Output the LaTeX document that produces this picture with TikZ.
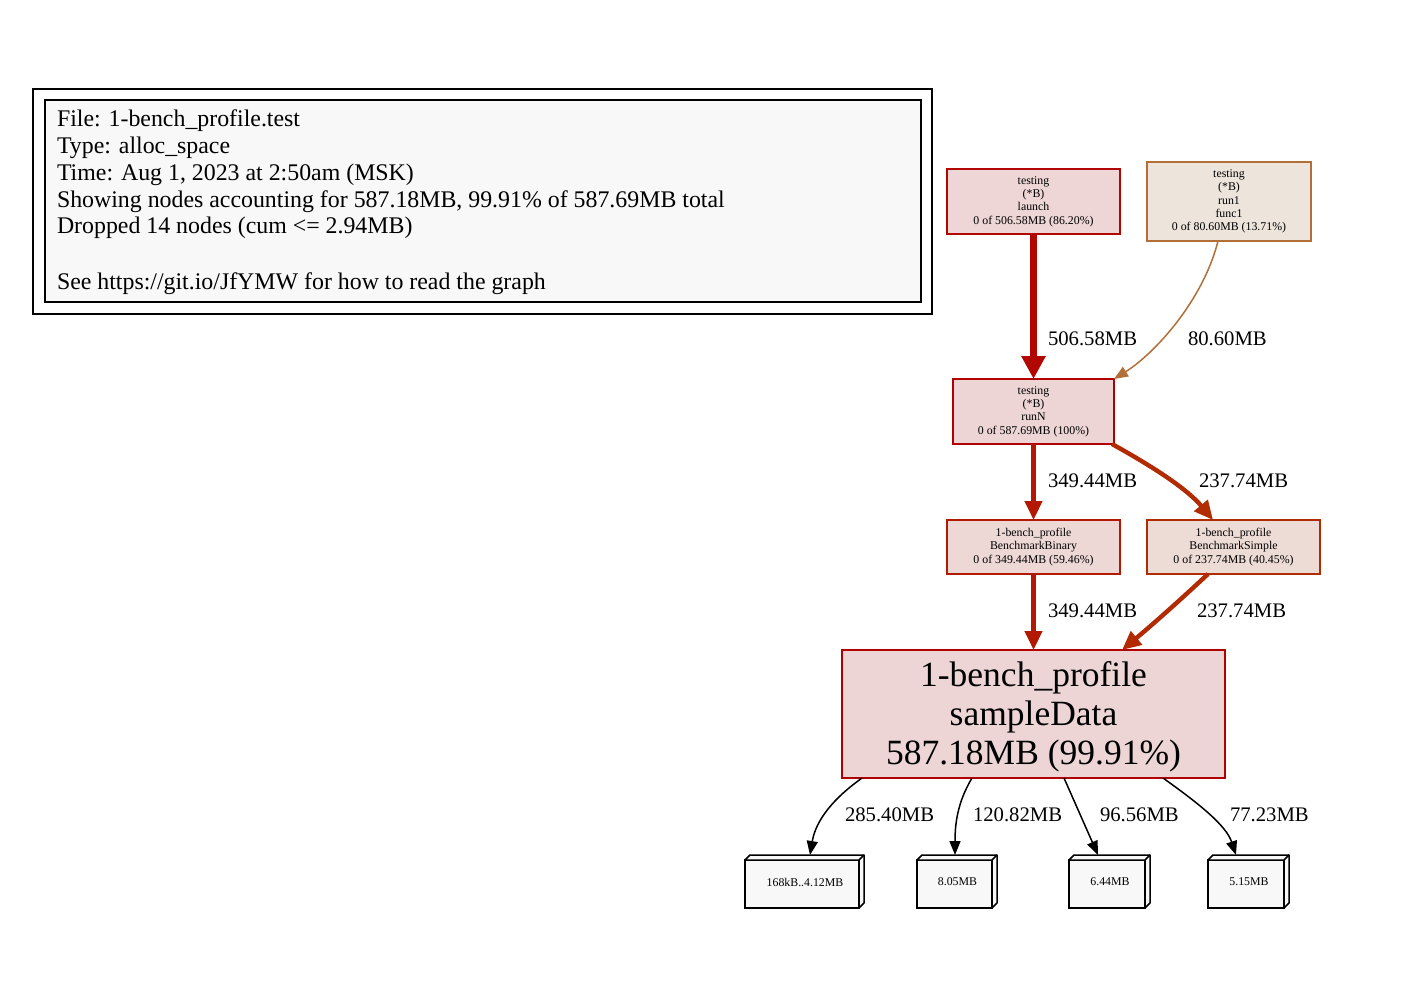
\documentclass[tikz,border=0pt]{standalone}
\usepackage{fontspec}
\setmainfont{Liberation Serif}
\usetikzlibrary{arrows.meta}
\definecolor{cRun}{HTML}{B20000}
\definecolor{fRun}{HTML}{EDD5D5}
\definecolor{cLaunch}{HTML}{B20700}
\definecolor{fLaunch}{HTML}{EDD6D5}
\definecolor{cFunc}{HTML}{B26F38}
\definecolor{fFunc}{HTML}{EDE4DC}
\definecolor{cBin}{HTML}{B21900}
\definecolor{fBin}{HTML}{EDD8D5}
\definecolor{cSim}{HTML}{B22A00}
\definecolor{fSim}{HTML}{EDDBD5}
\definecolor{boxgray}{HTML}{F8F8F8}
\newcommand{\tagtext}[1]{\raisebox{4pt}{\hspace*{6pt}#1}}
\begin{document}
\begin{tikzpicture}[x=1pt,y=-1pt,
  every node/.style={inner sep=0pt, outer sep=0pt},
  fn/.style={draw, line width=1.5pt, align=center, font=\fontsize{11.85}{13.4}\selectfont},
  lbl/.style={anchor=west, font=\fontsize{20.7}{24}\selectfont},
  leg/.style={anchor=base west, font=\fontsize{23.85}{27}\selectfont},
  tagbox/.style={draw=black, fill=boxgray, line width=1.5pt, minimum height=48pt, font=\fontsize{11.85}{13.4}\selectfont},
  edgeL/.style={line width=7.4pt, -{Triangle[length=23pt,width=23pt]}},
  edgeM/.style={line width=4.4pt, -{Triangle[length=19pt,width=17pt]}},
  edgeS/.style={line width=1.5pt, -{Triangle[length=14pt,width=11pt]}}
]
\path[fill=white] (0,0) rectangle (1424,1001);

% legend
\node (legout) [draw, line width=1.5pt, minimum width=899pt, minimum height=225pt] at (482.5,201.5) {};
\node (legin) [draw, fill=boxgray, line width=1.5pt, minimum width=876pt, minimum height=202pt] at (483,201) {};
\node (leg1) [leg] at (57,126) {File: 1-bench\_profile.test};
\node (leg2) [leg] at (57,153) {Type: alloc\_space};
\node (leg3) [leg] at (57,180) {Time: Aug 1, 2023 at 2:50am (MSK)};
\node (leg4) [leg] at (57,207) {Showing nodes accounting for 587.18MB, 99.91\% of 587.69MB total};
\node (leg5) [leg] at (57,233) {Dropped 14 nodes (cum <= 2.94MB)};
\node (leg6) [leg] at (57,289) {See https://git.io/JfYMW for how to read the graph};

% function nodes
\node (launch) [fn, draw=cLaunch, fill=fLaunch, minimum width=173pt, minimum height=65pt] at (1033.5,201.5)
  {testing\\(*B)\\launch\\0 of 506.58MB (86.20\%)};
\node (func1) [fn, draw=cFunc, fill=fFunc, minimum width=164pt, minimum height=79pt] at (1229,201.5)
  {testing\\(*B)\\run1\\func1\\0 of 80.60MB (13.71\%)};
\node (runN) [fn, draw=cRun, fill=fRun, minimum width=161pt, minimum height=65pt] at (1033.5,411.5)
  {testing\\(*B)\\runN\\0 of 587.69MB (100\%)};
\node (bin) [fn, draw=cBin, fill=fBin, minimum width=173pt, minimum height=54pt] at (1033.5,547)
  {1-bench\_profile\\BenchmarkBinary\\0 of 349.44MB (59.46\%)};
\node (sim) [fn, draw=cSim, fill=fSim, minimum width=173pt, minimum height=54pt] at (1233.5,547)
  {1-bench\_profile\\BenchmarkSimple\\0 of 237.74MB (40.45\%)};
\node (sample) [fn, draw=cRun, fill=fRun, minimum width=383pt, minimum height=128pt,
  font=\fontsize{35.5}{39}\selectfont] at (1033.5,714)
  {\rule{0pt}{30pt}1-bench\_profile\\sampleData\\587.18MB (99.91\%)};

% tag boxes (3d)
\node (b1) [tagbox, minimum width=114pt] at (802,884) {\tagtext{168kB..4.12MB}};
\node (b2) [tagbox, minimum width=75pt] at (954.5,884) {\tagtext{8.05MB}};
\node (b3) [tagbox, minimum width=76pt] at (1107,884) {\tagtext{6.44MB}};
\node (b4) [tagbox, minimum width=76pt] at (1246,884) {\tagtext{5.15MB}};
\foreach \n in {b1,b2,b3,b4}{
  \draw[line width=1.5pt, fill=boxgray, line join=round]
    (\n.north west) -- ([shift={(5,-5)}]\n.north west) -- ([shift={(5,-5)}]\n.north east)
    -- ([shift={(5,-5)}]\n.south east) -- (\n.south east) -- (\n.north east) -- cycle;
  \draw[line width=1.5pt] (\n.north east) -- ([shift={(5,-5)}]\n.north east);
}

% edges
\draw[edgeL, cLaunch] (launch) -- (runN);
\draw[edgeS, cFunc] ([xshift=-11pt]func1.south) .. controls +(-15,60) and +(40,-25) .. (runN.north east);
\draw[edgeM, cBin] (runN) -- (bin);
\draw[edgeM, cSim] ([xshift=-2pt]runN.south east) .. controls +(45,25) and +(-25,-30) .. ([xshift=-20.5pt]sim.north);
\draw[edgeM, cBin] (bin) -- (sample);
\draw[edgeM, cSim] ([xshift=-25.5pt]sim.south) .. controls +(-30,28) and +(30,-25) .. ([xshift=88.5pt]sample.north);
\draw[edgeS, black] ([xshift=-171.5pt]sample.south) .. controls +(-35,25) and +(5,-30) .. ([shift={(8,-5)}]b1.north);
\draw[edgeS, black] ([xshift=-61.5pt]sample.south) .. controls +(-15,25) and +(0,-30) .. ([shift={(0.5,-5)}]b2.north);
\draw[edgeS, black] ([xshift=30.5pt]sample.south) -- ([shift={(-9,-5)}]b3.north);
\draw[edgeS, black] ([xshift=129.5pt]sample.south) .. controls +(35,25) and +(-10,-30) .. ([shift={(-10,-5)}]b4.north);

% edge labels
\node (l1) [lbl] at (1048,339) {506.58MB};
\node (l2) [lbl] at (1188,339) {80.60MB};
\node (l3) [lbl] at (1048,481) {349.44MB};
\node (l4) [lbl] at (1199,481) {237.74MB};
\node (l5) [lbl] at (1048,611) {349.44MB};
\node (l6) [lbl] at (1197,611) {237.74MB};
\node (l7) [lbl] at (845,815) {285.40MB};
\node (l8) [lbl] at (973,815) {120.82MB};
\node (l9) [lbl] at (1100,815) {96.56MB};
\node (l10) [lbl] at (1230,815) {77.23MB};
\end{tikzpicture}
\end{document}
